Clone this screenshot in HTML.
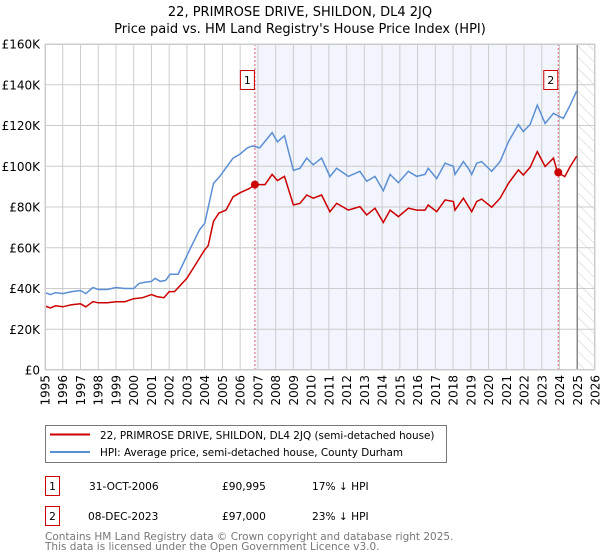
<!DOCTYPE html>
<html><head><meta charset="utf-8"><style>
body{margin:0;background:#fff;font-family:"DejaVu Sans","Liberation Sans",sans-serif;}
svg{display:block}
</style></head><body>
<svg id="c" width="600" height="560" viewBox="0 0 600 560">
<defs><pattern id="hatch" width="8" height="8" patternUnits="userSpaceOnUse" patternTransform="rotate(-45)"><line x1="0" y1="0" x2="0" y2="8" stroke="#ccc" stroke-width="1"/></pattern></defs>
<text x="300" y="16" text-anchor="middle" font-size="13" fill="#000">22, PRIMROSE DRIVE, SHILDON, DL4 2JQ</text>
<text x="300" y="33" text-anchor="middle" font-size="13" fill="#000">Price paid vs. HM Land Registry's House Price Index (HPI)</text>
<g id="plot"></g>
<g>
<rect x="45.5" y="425.5" width="401" height="37" fill="#fff" stroke="#777"/>
<line x1="50" y1="434.5" x2="90" y2="434.5" stroke="#cc0000" stroke-width="2"/>
<text x="100" y="439" font-size="10.4">22, PRIMROSE DRIVE, SHILDON, DL4 2JQ (semi-detached house)</text>
<line x1="50" y1="452" x2="90" y2="452" stroke="#5b8fd4" stroke-width="2"/>
<text x="100" y="456" font-size="10.4">HPI: Average price, semi-detached house, County Durham</text>
</g>
<g font-size="10.6">
<rect x="45.5" y="476.5" width="14" height="19" fill="#fff" stroke="#cc0000"/>
<text x="52.5" y="490" text-anchor="middle">1</text>
<text x="89" y="490">31-OCT-2006</text>
<text x="222" y="490">£90,995</text>
<text x="312" y="490">17% ↓ HPI</text>
<rect x="45.5" y="506.5" width="14" height="19" fill="#fff" stroke="#cc0000"/>
<text x="52.5" y="520" text-anchor="middle">2</text>
<text x="88" y="520">08-DEC-2023</text>
<text x="222" y="520">£97,000</text>
<text x="312" y="520">23% ↓ HPI</text>
</g>
<text x="45" y="540" font-size="10.5" fill="#777">Contains HM Land Registry data © Crown copyright and database right 2025.</text>
<text x="45" y="550" font-size="10.5" fill="#777">This data is licensed under the Open Government Licence v3.0.</text>
</svg>
<script>
const yTicks=[0,20,40,60,80,100,120,140,160];
const yTickLabels=["£0","£20K","£40K","£60K","£80K","£100K","£120K","£140K","£160K"];
const xYears=[1995,1996,1997,1998,1999,2000,2001,2002,2003,2004,2005,2006,2007,2008,2009,2010,2011,2012,2013,2014,2015,2016,2017,2018,2019,2020,2021,2022,2023,2024,2025,2026];
const hpiT=[1995.0,1995.3,1995.6,1996.0,1996.5,1997.0,1997.3,1997.7,1998.0,1998.5,1999.0,1999.5,2000.0,2000.3,2000.6,2001.0,2001.2,2001.5,2001.8,2002.05,2002.5,2003.1,2003.7,2004.0,2004.5,2004.85,2005.6,2006.0,2006.4,2006.7,2007.1,2007.8,2008.1,2008.5,2009.0,2009.37,2009.75,2010.12,2010.59,2011.06,2011.44,2012.1,2012.75,2013.13,2013.6,2014.07,2014.45,2014.92,2015.48,2015.95,2016.42,2016.6,2017.08,2017.55,2018.02,2018.11,2018.58,2018.86,2019.05,2019.33,2019.61,2020.18,2020.65,2021.12,2021.68,2021.96,2022.34,2022.75,2023.19,2023.66,2024.22,2024.6,2024.97];
const hpiV=[38,37,38,37.5,38.5,39,37.5,40.5,39.5,39.5,40.5,40,40,42.5,43,43.5,45,43.5,44,47,47,58,68.7,72,91.6,95,104,106,109,110,109,116.5,112,115,98,99,104,100.7,104,94.9,99,95,97.5,92.6,95,88,96,92,97.5,95,96,99,94,101.5,100,96,102.3,99,96,101.5,102.3,97.5,102.3,112,120.5,117,120.5,130,121,126,123.5,130,137];
const priceT=[1995.0,1995.3,1995.6,1996.0,1996.5,1997.0,1997.3,1997.7,1998.0,1998.5,1999.0,1999.5,2000.0,2000.5,2001.0,2001.3,2001.7,2002.0,2002.3,2003.0,2003.5,2004.0,2004.2,2004.5,2004.8,2005.2,2005.6,2006.0,2006.5,2006.83,2007.1,2007.4,2007.8,2008.1,2008.5,2009.0,2009.37,2009.75,2010.12,2010.59,2011.06,2011.44,2012.1,2012.75,2013.13,2013.6,2014.07,2014.45,2014.92,2015.48,2015.95,2016.42,2016.6,2017.08,2017.55,2018.02,2018.11,2018.58,2019.05,2019.33,2019.61,2020.18,2020.65,2021.12,2021.68,2021.96,2022.34,2022.75,2023.19,2023.66,2023.88,2024.3,2024.6,2024.97];
const priceV=[31.4,30.5,31.5,31,32,32.5,31,33.5,33,33,33.5,33.5,35,35.5,37,36,35.5,38.5,38.5,45,52,59,61,73,77,78.5,85,87,89,91,91,91,96,93,95,81,81.8,85.9,84.3,85.9,77.7,81.8,78.5,80.2,76.1,79.4,72.4,78.5,75.3,79.4,78.5,78.5,81,77.7,83.5,82.7,78.5,84.3,77.7,82.7,83.9,79.9,84.3,91.6,98.2,95.7,99.5,107.2,99.9,104,97,94.9,99.9,105];
const saleT=[2006.83,2023.93];
const saleV=[90.995,97];
const saleLabels=["1","2"];

const L=45,R=595,T=44,B=370;
const x=t=>L+(t-1995)/31*(R-L);
const y=v=>B-v/160*(B-T);
const g=document.getElementById('plot');
const NS="http://www.w3.org/2000/svg";
function mk(tag,attrs){const e=document.createElementNS(NS,tag);for(const k in attrs)e.setAttribute(k,attrs[k]);g.appendChild(e);return e;}
let e;
e=mk('rect',{x:L,y:T,width:R-L,height:B-T,fill:'#fff'});


e=mk('rect',{x:x(saleT[0]),y:T,width:x(saleT[1])-x(saleT[0]),height:B-T,fill:'#f2f5fd'});


e=mk('rect',{x:x(2025.05),y:T,width:R-x(2025.05),height:B-T,fill:'url(#hatch)'});


yTicks.forEach((v,i)=>{
  e=mk('line',{x1:L,x2:R,y1:y(v),y2:y(v),stroke:'#cccccc','stroke-width':1});
  
  
  e=mk('text',{x:L-5,y:y(v)+4.5,'text-anchor':'end','font-size':12,fill:'#000'});
  e.textContent=yTickLabels[i];
  
  
});
xYears.forEach(yr=>{
  e=mk('line',{x1:x(yr),x2:x(yr),y1:T,y2:B,stroke:'#cccccc','stroke-width':1});
  
  
  e=mk('text',{x:0,y:0,'text-anchor':'end','font-size':12,fill:'#000',transform:`translate(${x(yr)+4.5},${B+5}) rotate(-90)`});
  e.textContent=yr;
  
  
});
e=mk('line',{x1:x(2025.0),x2:x(2025.0),y1:T,y2:B,stroke:'#888','stroke-width':1.5});


saleT.forEach((t,i)=>{
  e=mk('line',{x1:x(t),x2:x(t),y1:T,y2:B,stroke:'#e06070','stroke-width':1,'stroke-dasharray':'2,2'});
  
  
});
function path(ts,vs){return ts.map((t,i)=>(i?'L':'M')+x(t).toFixed(1)+','+y(vs[i]).toFixed(1)).join('');}
e=mk('path',{d:path(hpiT,hpiV),fill:'none',stroke:'#5b8fd4','stroke-width':1.5});


e=mk('path',{d:path(priceT,priceV),fill:'none',stroke:'#cc0000','stroke-width':1.5});


saleT.forEach((t,i)=>{
  e=mk('circle',{cx:x(t),cy:y(saleV[i]),r:4,fill:'#cc0000'});
  
  
  e=mk('rect',{x:x(t)-14.5,y:70.5,width:14,height:19,fill:'#fff',stroke:'#cc0000'});
  
  
  e=mk('text',{x:x(t)-7.5,y:84,'text-anchor':'middle','font-size':11,fill:'#000'});
  e.textContent=saleLabels[i];
  
  
});
e=mk('rect',{x:L+0.5,y:T+0.5,width:R-L-1,height:B-T-1,fill:'none',stroke:'#cccccc'});


</script>
</body></html>
